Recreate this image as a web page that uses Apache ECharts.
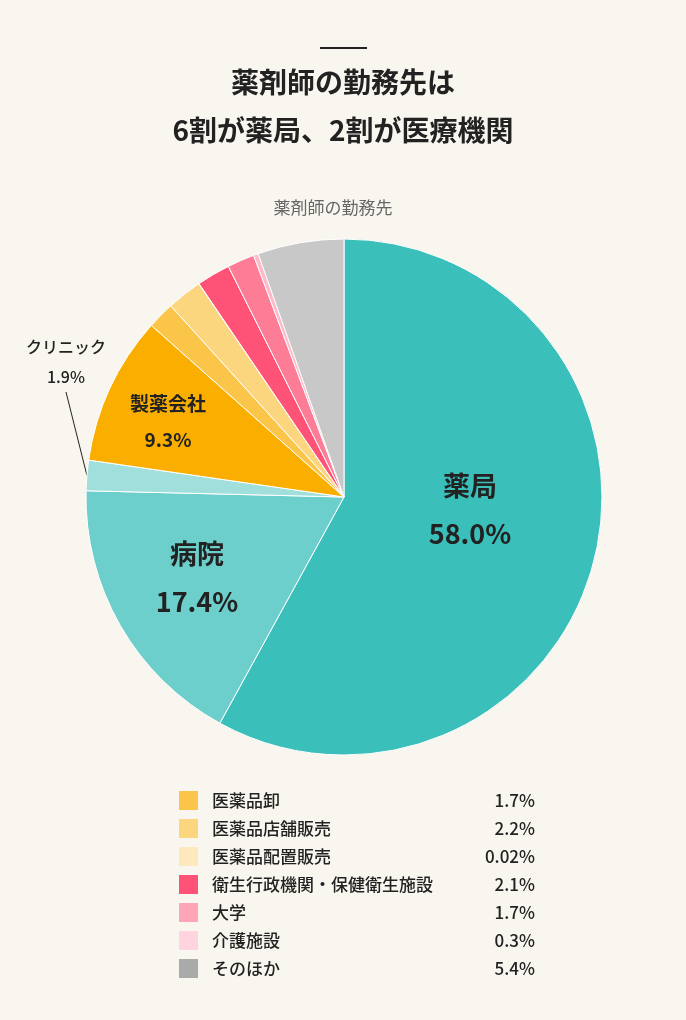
<!DOCTYPE html><html><head><meta charset="utf-8">
<script src="https://cdn.jsdelivr.net/npm/echarts@6/dist/echarts.min.js"></script>
<style>body{margin:0;background:#f9f6ef}#c{width:686px;height:1020px}</style></head><body><div id="c"></div>
<script>
const categories=['薬局','病院','クリニック','製薬会社','医薬品卸','医薬品店舗販売','医薬品配置販売','衛生行政機関・保健衛生施設','大学','介護施設','そのほか'];
const values=[58.0,17.4,1.9,9.3,1.7,2.2,0.02,2.1,1.7,0.3,5.4];
const labels=['58.0%','17.4%','1.9%','9.3%','1.7%','2.2%','0.02%','2.1%','1.7%','0.3%','5.4%'];
const colors=['#3bbfba','#6dcfcb','#a0dfdc','#f9ae00','#fbc54a','#fcd57f','#fde9bd','#fe5277','#fe7d96','#ffb9c8','#c8c8c8'];
const legendColors=['#fbc54a','#fcd57f','#fde9bd','#fe5277','#ffa5b8','#ffd4df','#aaaaaa'];
const F='"Noto Sans CJK JP"';
const ch=echarts.init(document.getElementById('c'));
const g=[{type:'rect',shape:{x:320,y:47,width:47,height:2},style:{fill:'#222'}},
{type:'text',x:343,y:82,style:{text:'薬剤師の勤務先は',font:'bold 28px '+F,fill:'#222',align:'center',verticalAlign:'middle'}},
{type:'text',x:343,y:130,style:{text:'6割が薬局、2割が医療機関',font:'bold 28px '+F,fill:'#222',align:'center',verticalAlign:'middle'}},
{type:'text',x:333,y:208,style:{text:'薬剤師の勤務先',font:'17px '+F,fill:'#666',align:'center',verticalAlign:'middle'}}];
for(let i=0;i<7;i++){const y=800+i*28,k=i+4;
g.push({type:'rect',shape:{x:179,y:y-9,width:19,height:19},style:{fill:legendColors[i]}});
g.push({type:'text',x:212,y:y+1,style:{text:categories[k],font:'500 17px '+F,fill:'#222',verticalAlign:'middle'}});
g.push({type:'text',x:535,y:y+1,style:{text:labels[k],font:'500 17px '+F,fill:'#222',align:'right',verticalAlign:'middle'}});}
const shown={0:1,1:1,3:1};
ch.setOption({backgroundColor:'#f9f6ef',graphic:g,series:[{type:'pie',center:[344,497],radius:[0,258],startAngle:90,animation:false,
itemStyle:{borderColor:'#fff',borderWidth:1},
data:categories.map((n,i)=>{const d={name:n,value:values[i],itemStyle:{color:colors[i]}};
if(shown[i]){d.label={show:true,position:'inside',formatter:n+'\n'+labels[i],fontFamily:F,fontWeight:'bold',color:'#222',fontSize:i==3?19:27,lineHeight:i==3?36:48};}
else if(i==2){d.label={show:true,position:'outside',formatter:n+'\n'+labels[i],fontFamily:F,fontWeight:500,color:'#222',fontSize:16,lineHeight:30,align:'center',width:120,overflow:'none'};d.labelLine={show:true,lineStyle:{color:'#222',width:1},length:10,length2:0};}
else d.label={show:false};return d;}),
labelLayout:p=>{if(p.dataIndex==2)return{x:66,y:362,align:'center',verticalAlign:'middle'};if(p.dataIndex==3)return{x:168,y:422};if(p.dataIndex==1)return{x:197,y:578};if(p.dataIndex==0)return{x:470,y:510};}
}]});
</script></body></html>
